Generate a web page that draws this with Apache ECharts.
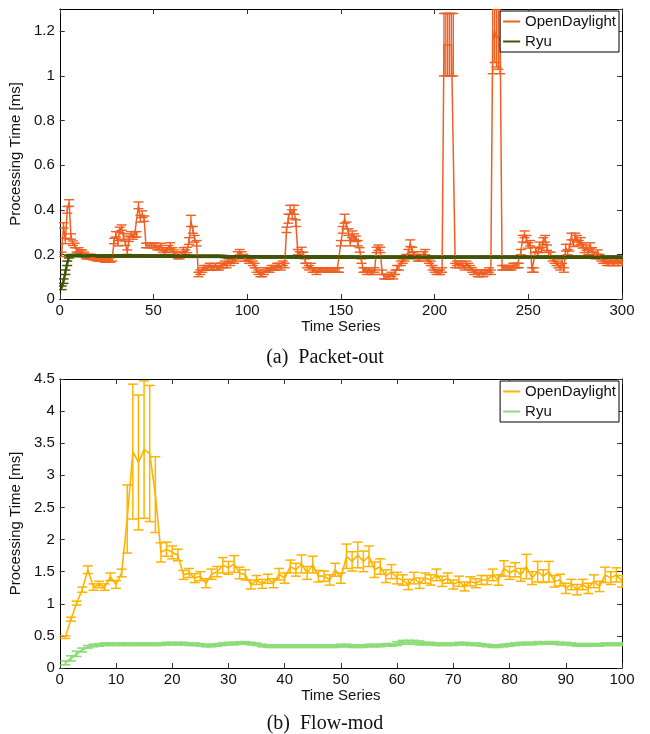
<!DOCTYPE html>
<html>
<head>
<meta charset="utf-8">
<script src="https://cdn.jsdelivr.net/npm/echarts@6/dist/echarts.min.js"></script>
<style>
  html, body { margin: 0; padding: 0; background: #fff; }
  #chart { width: 650px; height: 734px; }
</style>
</head>
<body>
<div id="chart"></div>
<script>
// (a) Packet-out, time series 1..300
var packetOdl = [
  0.20, 0.33, 0.26, 0.40, 0.43, 0.28, 0.25, 0.24, 0.22, 0.22,
  0.21, 0.21, 0.20, 0.19, 0.19, 0.19, 0.19, 0.185, 0.185, 0.18,
  0.18, 0.18, 0.18, 0.175, 0.175, 0.175, 0.175, 0.18, 0.26, 0.29,
  0.25, 0.31, 0.32, 0.28, 0.25, 0.21, 0.27, 0.29, 0.28, 0.29,
  0.29, 0.42, 0.36, 0.38, 0.36, 0.24, 0.24, 0.24, 0.24, 0.24,
  0.24, 0.23, 0.23, 0.24, 0.22, 0.21, 0.22, 0.23, 0.24, 0.22,
  0.21, 0.20, 0.19, 0.19, 0.20, 0.22, 0.21, 0.22, 0.26, 0.35,
  0.31, 0.27, 0.25, 0.11, 0.12, 0.13, 0.14, 0.14, 0.14, 0.15,
  0.14, 0.14, 0.15, 0.14, 0.14, 0.15, 0.15, 0.16, 0.15, 0.17,
  0.16, 0.17, 0.17, 0.18, 0.20, 0.21, 0.20, 0.19, 0.18, 0.18,
  0.17, 0.17, 0.16, 0.15, 0.13, 0.12, 0.11, 0.11, 0.12, 0.13,
  0.13, 0.13, 0.14, 0.14, 0.14, 0.15, 0.15, 0.14, 0.16, 0.15,
  0.31, 0.36, 0.40, 0.38, 0.40, 0.34, 0.21, 0.20, 0.22, 0.20,
  0.17, 0.15, 0.14, 0.15, 0.13, 0.13, 0.12, 0.13, 0.13, 0.13,
  0.13, 0.13, 0.13, 0.13, 0.13, 0.13, 0.13, 0.13, 0.13, 0.25,
  0.31, 0.36, 0.33, 0.30, 0.25, 0.29, 0.28, 0.27, 0.25, 0.22,
  0.17, 0.13, 0.13, 0.12, 0.13, 0.12, 0.12, 0.13, 0.22, 0.23,
  0.22, 0.12, 0.10, 0.10, 0.10, 0.10, 0.11, 0.10, 0.12, 0.14,
  0.14, 0.16, 0.17, 0.18, 0.19, 0.21, 0.25, 0.22, 0.20, 0.19,
  0.18, 0.18, 0.19, 0.20, 0.21, 0.18, 0.17, 0.16, 0.14, 0.13,
  0.12, 0.12, 0.12, 0.13, 1.14, 1.14, 1.14, 1.14, 1.14, 1.14,
  0.15, 0.16, 0.15, 0.16, 0.15, 0.14, 0.16, 0.15, 0.14, 0.13,
  0.12, 0.12, 0.11, 0.11, 0.12, 0.11, 0.12, 0.12, 0.13, 0.12,
  1.16, 1.20, 1.17, 1.18, 1.16, 0.14, 0.14, 0.14, 0.14, 0.14,
  0.14, 0.15, 0.15, 0.15, 0.15, 0.21, 0.27, 0.29, 0.27, 0.24,
  0.25, 0.13, 0.13, 0.22, 0.20, 0.24, 0.22, 0.26, 0.27, 0.23,
  0.20, 0.20, 0.18, 0.17, 0.16, 0.15, 0.14, 0.17, 0.13, 0.23,
  0.21, 0.23, 0.28, 0.25, 0.28, 0.27, 0.25, 0.26, 0.24, 0.22,
  0.23, 0.21, 0.24, 0.22, 0.20, 0.19, 0.21, 0.19, 0.18, 0.17,
  0.17, 0.16, 0.16, 0.17, 0.16, 0.16, 0.17, 0.16, 0.17, 0.16
];
var packetOdlErr = [
  0.01, 0.012, 0.012, 0.015, 0.015, 0.012, 0.01, 0.01, 0.01, 0.01,
  0.01, 0.01, 0.01, 0.01, 0.01, 0.01, 0.01, 0.01, 0.01, 0.01,
  0.01, 0.01, 0.01, 0.01, 0.01, 0.01, 0.01, 0.01, 0.012, 0.012,
  0.012, 0.012, 0.012, 0.012, 0.01, 0.01, 0.012, 0.012, 0.012, 0.012,
  0.012, 0.015, 0.015, 0.015, 0.012, 0.01, 0.01, 0.01, 0.01, 0.01,
  0.01, 0.01, 0.01, 0.01, 0.01, 0.01, 0.01, 0.01, 0.012, 0.01,
  0.01, 0.01, 0.01, 0.01, 0.01, 0.01, 0.01, 0.012, 0.015, 0.025,
  0.015, 0.015, 0.012, 0.01, 0.01, 0.01, 0.01, 0.01, 0.01, 0.01,
  0.01, 0.01, 0.01, 0.01, 0.01, 0.01, 0.01, 0.01, 0.01, 0.01,
  0.01, 0.01, 0.01, 0.01, 0.012, 0.012, 0.012, 0.01, 0.01, 0.01,
  0.01, 0.01, 0.01, 0.01, 0.01, 0.01, 0.01, 0.01, 0.01, 0.01,
  0.01, 0.01, 0.01, 0.01, 0.01, 0.01, 0.01, 0.01, 0.01, 0.01,
  0.012, 0.02, 0.02, 0.02, 0.02, 0.015, 0.012, 0.012, 0.012, 0.01,
  0.01, 0.01, 0.01, 0.01, 0.01, 0.01, 0.01, 0.01, 0.01, 0.01,
  0.01, 0.01, 0.01, 0.01, 0.01, 0.01, 0.01, 0.01, 0.01, 0.012,
  0.015, 0.02, 0.015, 0.015, 0.012, 0.015, 0.012, 0.012, 0.012, 0.01,
  0.01, 0.01, 0.01, 0.01, 0.01, 0.01, 0.01, 0.01, 0.012, 0.012,
  0.012, 0.01, 0.01, 0.01, 0.01, 0.01, 0.01, 0.01, 0.01, 0.01,
  0.01, 0.01, 0.01, 0.01, 0.01, 0.012, 0.015, 0.012, 0.012, 0.01,
  0.01, 0.01, 0.01, 0.012, 0.012, 0.01, 0.01, 0.01, 0.01, 0.01,
  0.01, 0.01, 0.01, 0.01, 0.14, 0.14, 0.14, 0.14, 0.14, 0.14,
  0.01, 0.01, 0.01, 0.01, 0.01, 0.01, 0.01, 0.01, 0.01, 0.01,
  0.01, 0.01, 0.01, 0.01, 0.01, 0.01, 0.01, 0.01, 0.01, 0.01,
  0.15, 0.14, 0.13, 0.15, 0.15, 0.01, 0.01, 0.01, 0.01, 0.01,
  0.01, 0.01, 0.01, 0.01, 0.01, 0.012, 0.015, 0.015, 0.015, 0.012,
  0.012, 0.01, 0.01, 0.012, 0.012, 0.015, 0.012, 0.015, 0.015, 0.012,
  0.01, 0.01, 0.01, 0.01, 0.01, 0.01, 0.01, 0.01, 0.01, 0.015,
  0.012, 0.015, 0.015, 0.015, 0.015, 0.015, 0.012, 0.015, 0.012, 0.012,
  0.012, 0.01, 0.012, 0.01, 0.01, 0.01, 0.01, 0.01, 0.01, 0.01,
  0.01, 0.01, 0.01, 0.01, 0.01, 0.01, 0.01, 0.01, 0.01, 0.01
];
var packetRyu = [
  0.05, 0.08, 0.12, 0.16, 0.19, 0.195, 0.195, 0.195, 0.195, 0.195,
  0.195, 0.195, 0.194, 0.194, 0.194, 0.194, 0.194, 0.194, 0.194, 0.194,
  0.194, 0.194, 0.194, 0.194, 0.194, 0.194, 0.194, 0.194, 0.193, 0.193,
  0.193, 0.193, 0.193, 0.193, 0.193, 0.193, 0.193, 0.193, 0.193, 0.193,
  0.193, 0.193, 0.193, 0.193, 0.192, 0.192, 0.192, 0.192, 0.192, 0.192,
  0.192, 0.192, 0.192, 0.192, 0.192, 0.192, 0.192, 0.192, 0.192, 0.192,
  0.192, 0.192, 0.192, 0.192, 0.192, 0.192, 0.192, 0.191, 0.191, 0.191,
  0.191, 0.191, 0.191, 0.191, 0.191, 0.191, 0.191, 0.191, 0.191, 0.191,
  0.191, 0.191, 0.191, 0.191, 0.191, 0.191, 0.191, 0.190, 0.190, 0.190,
  0.190, 0.190, 0.190, 0.190, 0.190, 0.190, 0.190, 0.190, 0.190, 0.190,
  0.190, 0.190, 0.190, 0.190, 0.190, 0.190, 0.189, 0.189, 0.189, 0.189,
  0.189, 0.189, 0.189, 0.189, 0.189, 0.189, 0.189, 0.189, 0.189, 0.189,
  0.189, 0.189, 0.189, 0.189, 0.189, 0.188, 0.188, 0.188, 0.188, 0.188,
  0.188, 0.188, 0.188, 0.188, 0.188, 0.188, 0.188, 0.188, 0.188, 0.188,
  0.188, 0.188, 0.188, 0.188, 0.188, 0.188, 0.188, 0.188, 0.188, 0.188,
  0.188, 0.188, 0.188, 0.187, 0.187, 0.187, 0.187, 0.187, 0.187, 0.187,
  0.187, 0.187, 0.187, 0.187, 0.187, 0.187, 0.187, 0.187, 0.187, 0.187,
  0.187, 0.187, 0.187, 0.187, 0.187, 0.187, 0.187, 0.187, 0.187, 0.187,
  0.187, 0.187, 0.187, 0.187, 0.187, 0.187, 0.187, 0.187, 0.187, 0.187,
  0.187, 0.187, 0.187, 0.187, 0.187, 0.187, 0.187, 0.187, 0.187, 0.187,
  0.187, 0.187, 0.187, 0.187, 0.187, 0.187, 0.187, 0.187, 0.187, 0.187,
  0.187, 0.187, 0.187, 0.187, 0.187, 0.187, 0.187, 0.187, 0.187, 0.187,
  0.187, 0.187, 0.187, 0.187, 0.187, 0.187, 0.187, 0.187, 0.187, 0.187,
  0.187, 0.187, 0.187, 0.187, 0.187, 0.187, 0.187, 0.187, 0.187, 0.187,
  0.187, 0.187, 0.187, 0.187, 0.187, 0.187, 0.187, 0.187, 0.187, 0.187,
  0.187, 0.187, 0.187, 0.187, 0.187, 0.187, 0.187, 0.187, 0.187, 0.187,
  0.187, 0.187, 0.187, 0.187, 0.187, 0.187, 0.187, 0.187, 0.187, 0.187,
  0.187, 0.187, 0.187, 0.187, 0.187, 0.187, 0.187, 0.187, 0.187, 0.187,
  0.187, 0.187, 0.187, 0.187, 0.187, 0.187, 0.187, 0.187, 0.187, 0.187,
  0.187, 0.187, 0.187, 0.187, 0.187, 0.187, 0.187, 0.187, 0.187, 0.187
];
var packetRyuErr = [
  0.008, 0.01, 0.01, 0.01, 0.006, 0.004, 0.004, 0.004, 0.004, 0.004,
  0.004, 0.004, 0.004, 0.004, 0.004, 0.004, 0.004, 0.004, 0.004, 0.004,
  0.004, 0.004, 0.004, 0.004, 0.004, 0.004, 0.004, 0.004, 0.004, 0.004,
  0.004, 0.004, 0.004, 0.004, 0.004, 0.004, 0.004, 0.004, 0.004, 0.004,
  0.004, 0.004, 0.004, 0.004, 0.004, 0.004, 0.004, 0.004, 0.004, 0.004,
  0.004, 0.004, 0.004, 0.004, 0.004, 0.004, 0.004, 0.004, 0.004, 0.004,
  0.004, 0.004, 0.004, 0.004, 0.004, 0.004, 0.004, 0.004, 0.004, 0.004,
  0.004, 0.004, 0.004, 0.004, 0.004, 0.004, 0.004, 0.004, 0.004, 0.004,
  0.004, 0.004, 0.004, 0.004, 0.004, 0.004, 0.004, 0.004, 0.004, 0.004,
  0.004, 0.004, 0.004, 0.004, 0.004, 0.004, 0.004, 0.004, 0.004, 0.004,
  0.004, 0.004, 0.004, 0.004, 0.004, 0.004, 0.004, 0.004, 0.004, 0.004,
  0.004, 0.004, 0.004, 0.004, 0.004, 0.004, 0.004, 0.004, 0.004, 0.004,
  0.004, 0.004, 0.004, 0.004, 0.004, 0.004, 0.004, 0.004, 0.004, 0.004,
  0.004, 0.004, 0.004, 0.004, 0.004, 0.004, 0.004, 0.004, 0.004, 0.004,
  0.004, 0.004, 0.004, 0.004, 0.004, 0.004, 0.004, 0.004, 0.004, 0.004,
  0.004, 0.004, 0.004, 0.004, 0.004, 0.004, 0.004, 0.004, 0.004, 0.004,
  0.004, 0.004, 0.004, 0.004, 0.004, 0.004, 0.004, 0.004, 0.004, 0.004,
  0.004, 0.004, 0.004, 0.004, 0.004, 0.004, 0.004, 0.004, 0.004, 0.004,
  0.004, 0.004, 0.004, 0.004, 0.004, 0.004, 0.004, 0.004, 0.004, 0.004,
  0.004, 0.004, 0.004, 0.004, 0.004, 0.004, 0.004, 0.004, 0.004, 0.004,
  0.004, 0.004, 0.004, 0.004, 0.004, 0.004, 0.004, 0.004, 0.004, 0.004,
  0.004, 0.004, 0.004, 0.004, 0.004, 0.004, 0.004, 0.004, 0.004, 0.004,
  0.004, 0.004, 0.004, 0.004, 0.004, 0.004, 0.004, 0.004, 0.004, 0.004,
  0.004, 0.004, 0.004, 0.004, 0.004, 0.004, 0.004, 0.004, 0.004, 0.004,
  0.004, 0.004, 0.004, 0.004, 0.004, 0.004, 0.004, 0.004, 0.004, 0.004,
  0.004, 0.004, 0.004, 0.004, 0.004, 0.004, 0.004, 0.004, 0.004, 0.004,
  0.004, 0.004, 0.004, 0.004, 0.004, 0.004, 0.004, 0.004, 0.004, 0.004,
  0.004, 0.004, 0.004, 0.004, 0.004, 0.004, 0.004, 0.004, 0.004, 0.004,
  0.004, 0.004, 0.004, 0.004, 0.004, 0.004, 0.004, 0.004, 0.004, 0.004,
  0.004, 0.004, 0.004, 0.004, 0.004, 0.004, 0.004, 0.004, 0.004, 0.004
];

// (b) Flow-mod, time series 1..100
var flowOdl = [
  0.48, 0.76, 1.01, 1.22, 1.53, 1.26, 1.30, 1.26, 1.42, 1.30,
  1.48, 2.32, 3.37, 3.20, 3.40, 3.34, 2.70, 1.80, 1.85, 1.80,
  1.76, 1.45, 1.48, 1.40, 1.43, 1.32, 1.46, 1.50, 1.60, 1.56,
  1.62, 1.48, 1.45, 1.30, 1.37, 1.31, 1.39, 1.32, 1.46, 1.40,
  1.58, 1.53, 1.62, 1.48, 1.61, 1.43, 1.43, 1.37, 1.53, 1.40,
  1.74, 1.66, 1.76, 1.66, 1.74, 1.53, 1.58, 1.43, 1.50, 1.40,
  1.37, 1.30, 1.40, 1.32, 1.40, 1.37, 1.45, 1.35, 1.40, 1.30,
  1.35, 1.27, 1.35, 1.32, 1.37, 1.37, 1.45, 1.37, 1.55, 1.48,
  1.53, 1.45, 1.58, 1.40, 1.50, 1.43, 1.50, 1.35, 1.37, 1.24,
  1.30, 1.22, 1.30, 1.24, 1.35, 1.27, 1.45, 1.40, 1.45, 1.35
];
var flowOdlErr = [
  0.02, 0.03, 0.03, 0.04, 0.06, 0.05, 0.05, 0.05, 0.06, 0.06,
  0.06, 0.53, 1.05, 1.05, 1.07, 1.06, 0.59, 0.15, 0.11, 0.10,
  0.09, 0.07, 0.07, 0.07, 0.07, 0.07, 0.08, 0.08, 0.12, 0.10,
  0.13, 0.09, 0.08, 0.07, 0.07, 0.07, 0.07, 0.07, 0.09, 0.08,
  0.10, 0.10, 0.14, 0.10, 0.13, 0.09, 0.08, 0.08, 0.10, 0.08,
  0.19, 0.15, 0.20, 0.16, 0.16, 0.12, 0.12, 0.10, 0.11, 0.09,
  0.08, 0.08, 0.09, 0.08, 0.08, 0.08, 0.09, 0.08, 0.08, 0.07,
  0.08, 0.07, 0.07, 0.07, 0.07, 0.07, 0.09, 0.08, 0.12, 0.10,
  0.11, 0.10, 0.19, 0.10, 0.16, 0.10, 0.16, 0.09, 0.09, 0.08,
  0.08, 0.08, 0.08, 0.08, 0.10, 0.08, 0.12, 0.10, 0.11, 0.09
];
var flowRyu = [
  0.08, 0.15, 0.22, 0.28, 0.33, 0.35, 0.36, 0.37, 0.37, 0.37,
  0.37, 0.37, 0.37, 0.37, 0.37, 0.37, 0.37, 0.37, 0.38, 0.38,
  0.38, 0.38, 0.37, 0.37, 0.36, 0.35, 0.35, 0.36, 0.37, 0.38,
  0.38, 0.39, 0.39, 0.38, 0.37, 0.35, 0.34, 0.34, 0.34, 0.34,
  0.34, 0.34, 0.34, 0.34, 0.34, 0.34, 0.34, 0.34, 0.34, 0.35,
  0.35, 0.34, 0.34, 0.34, 0.35, 0.35, 0.35, 0.36, 0.36, 0.38,
  0.40, 0.40, 0.40, 0.39, 0.38, 0.38, 0.37, 0.37, 0.37, 0.37,
  0.38, 0.38, 0.37, 0.37, 0.36, 0.35, 0.34, 0.34, 0.35, 0.36,
  0.37, 0.38, 0.38, 0.38, 0.39, 0.39, 0.39, 0.39, 0.38, 0.38,
  0.37, 0.36, 0.36, 0.36, 0.36, 0.36, 0.37, 0.37, 0.37, 0.37
];
var flowRyuErr = [
  0.03, 0.04, 0.04, 0.03, 0.02, 0.02, 0.02, 0.02, 0.02, 0.02,
  0.02, 0.02, 0.02, 0.02, 0.02, 0.02, 0.02, 0.02, 0.02, 0.02,
  0.02, 0.02, 0.02, 0.02, 0.02, 0.02, 0.02, 0.02, 0.02, 0.02,
  0.02, 0.02, 0.02, 0.02, 0.02, 0.02, 0.02, 0.02, 0.02, 0.02,
  0.02, 0.02, 0.02, 0.02, 0.02, 0.02, 0.02, 0.02, 0.02, 0.02,
  0.02, 0.02, 0.02, 0.02, 0.02, 0.02, 0.02, 0.02, 0.02, 0.03,
  0.03, 0.03, 0.03, 0.03, 0.02, 0.02, 0.02, 0.02, 0.02, 0.02,
  0.02, 0.02, 0.02, 0.02, 0.02, 0.02, 0.02, 0.02, 0.02, 0.02,
  0.02, 0.02, 0.02, 0.02, 0.02, 0.02, 0.02, 0.02, 0.02, 0.02,
  0.02, 0.02, 0.02, 0.02, 0.02, 0.02, 0.02, 0.02, 0.02, 0.02
];

var xTicksA = { min: 0, max: 300, interval: 50 };
var yTicksA = { min: 0, max: 1.3, interval: 0.2 };
var xTicksB = { min: 0, max: 100, interval: 10 };
var yTicksB = { min: 0, max: 4.5, interval: 0.5 };

var SANS = 'Liberation Sans';

function points(vals) {
  return vals.map(function (v, i) { return [i + 1, v]; });
}
function bars(vals, errs) {
  return vals.map(function (v, i) { return [i + 1, v - errs[i], v + errs[i]]; });
}

function errorBars(name, idx, data, color, width) {
  return {
    name: name,
    type: 'custom',
    xAxisIndex: idx * 2,
    yAxisIndex: idx * 2,
    clip: true,
    silent: true,
    data: data,
    encode: { x: 0, y: [1, 2] },
    renderItem: function (params, api) {
      var x = api.value(0);
      var top = api.coord([x, api.value(2)]);
      var bot = api.coord([x, api.value(1)]);
      var w = 5;
      var st = { stroke: color, lineWidth: width };
      return {
        type: 'group',
        children: [
          { type: 'line', shape: { x1: top[0], y1: top[1], x2: bot[0], y2: bot[1] }, style: st },
          { type: 'line', shape: { x1: top[0] - w, y1: top[1], x2: top[0] + w, y2: top[1] }, style: st },
          { type: 'line', shape: { x1: bot[0] - w, y1: bot[1], x2: bot[0] + w, y2: bot[1] }, style: st }
        ]
      };
    }
  };
}

function lineSeries(name, idx, data, color, width) {
  return {
    name: name,
    type: 'line',
    xAxisIndex: idx * 2,
    yAxisIndex: idx * 2,
    data: data,
    showSymbol: false,
    symbol: 'none',
    silent: true,
    animation: false,
    lineStyle: { color: color, width: width },
    itemStyle: { color: color }
  };
}

function xAxes(gridIndex, ticks, gap) {
  var base = {
    type: 'value',
    gridIndex: gridIndex,
    min: ticks.min, max: ticks.max, interval: ticks.interval,
    splitLine: { show: false },
    axisLine: { show: true, onZero: false, lineStyle: { color: '#000', width: 1 } },
    axisTick: { show: true, inside: true, length: 5, lineStyle: { color: '#333' } }
  };
  return [
    Object.assign({}, base, {
      position: 'bottom',
      name: 'Time Series',
      nameLocation: 'middle',
      nameGap: gap,
      nameTextStyle: { fontFamily: SANS, fontSize: 15, color: '#111' },
      axisLabel: { margin: 4, fontFamily: SANS, fontSize: 15, color: '#111' }
    }),
    Object.assign({}, base, { position: 'top', axisLabel: { show: false } })
  ];
}

function yAxes(gridIndex, ticks) {
  var base = {
    type: 'value',
    gridIndex: gridIndex,
    min: ticks.min, max: ticks.max, interval: ticks.interval,
    splitLine: { show: false },
    axisLine: { show: true, onZero: false, lineStyle: { color: '#000', width: 1 } },
    axisTick: { show: true, inside: true, length: 5, lineStyle: { color: '#333' } }
  };
  // only show the top label when max sits on a tick
  var onTick = Math.abs(ticks.max / ticks.interval - Math.round(ticks.max / ticks.interval)) < 1e-9;
  return [
    Object.assign({}, base, {
      position: 'left',
      name: 'Processing Time [ms]',
      nameLocation: 'middle',
      nameGap: 34,
      nameTextStyle: { fontFamily: SANS, fontSize: 15, color: '#111' },
      axisLabel: { margin: 5, fontFamily: SANS, fontSize: 15, color: '#111', showMaxLabel: onTick }
    }),
    Object.assign({}, base, { position: 'right', axisLabel: { show: false } })
  ];
}

function legendBox(top, names) {
  return {
    orient: 'vertical',
    right: 31,
    top: top,
    data: names,
    icon: 'rect',
    itemWidth: 17,
    itemHeight: 2,
    itemGap: 5,
    padding: [3, 3, 3, 3],
    borderColor: '#000',
    borderWidth: 1,
    backgroundColor: '#fff',
    selectedMode: false,
    formatter: function (name) { return name.replace(/ \([ab]\)$/, ''); },
    textStyle: { fontFamily: SANS, fontSize: 15, color: '#111' }
  };
}

var COL_A_ODL = '#ee5f22';
var COL_A_RYU = '#405606';
var COL_B_ODL = '#ffb300';
var COL_B_RYU = '#8cdc7a';

var chart = echarts.init(document.getElementById('chart'), null, { renderer: 'canvas' });

chart.setOption({
  animation: false,
  backgroundColor: '#fff',
  title: [
    { text: '(a)  Packet-out', left: 'center', top: 343,
      textStyle: { fontFamily: 'Liberation Serif', fontSize: 20, fontWeight: 'normal', color: '#111' } },
    { text: '(b)  Flow-mod', left: 'center', top: 709,
      textStyle: { fontFamily: 'Liberation Serif', fontSize: 20, fontWeight: 'normal', color: '#111' } }
  ],
  grid: [
    { left: 57, right: 28, top: 9, height: 290 },
    { left: 57, right: 28, top: 379, height: 289 }
  ],
  legend: [
    legendBox(11, ['OpenDaylight (a)', 'Ryu (a)']),
    legendBox(381, ['OpenDaylight (b)', 'Ryu (b)'])
  ],
  xAxis: xAxes(0, xTicksA, 18).concat(xAxes(1, xTicksB, 15)),
  yAxis: yAxes(0, yTicksA).concat(yAxes(1, yTicksB)),
  series: [
    lineSeries('OpenDaylight (a)', 0, points(packetOdl), COL_A_ODL, 1.5),
    errorBars('OpenDaylight (a)', 0, bars(packetOdl, packetOdlErr), COL_A_ODL, 1.4),
    lineSeries('Ryu (a)', 0, points(packetRyu), COL_A_RYU, 2.5),
    errorBars('Ryu (a)', 0, bars(packetRyu, packetRyuErr), COL_A_RYU, 1.5),
    lineSeries('OpenDaylight (b)', 1, points(flowOdl), COL_B_ODL, 1.6),
    errorBars('OpenDaylight (b)', 1, bars(flowOdl, flowOdlErr), COL_B_ODL, 1.5),
    lineSeries('Ryu (b)', 1, points(flowRyu), COL_B_RYU, 2),
    errorBars('Ryu (b)', 1, bars(flowRyu, flowRyuErr), COL_B_RYU, 1.6)
  ]
});
</script>
</body>
</html>
